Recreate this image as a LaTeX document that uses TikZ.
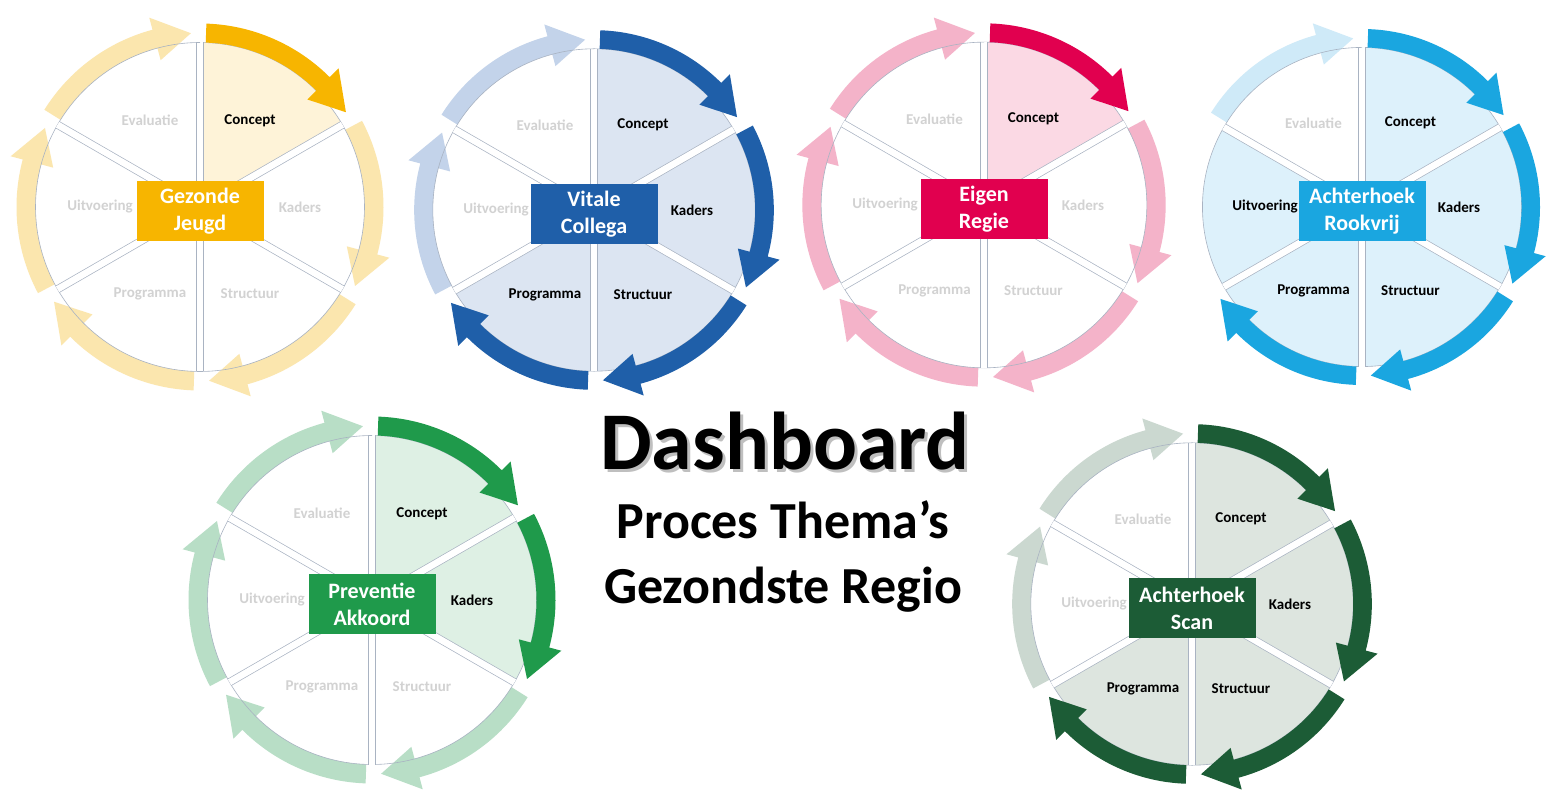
\documentclass[tikz,border=0pt]{standalone}
\usepackage{fontspec}
\setmainfont{Carlito}

\definecolor{geel}{HTML}{F7B500}
\definecolor{geelPijl}{HTML}{FBE6AE}
\definecolor{geelVlak}{HTML}{FEF3D8}
\definecolor{blauw}{HTML}{1F5FA9}
\definecolor{blauwPijl}{HTML}{C3D3EA}
\definecolor{blauwVlak}{HTML}{DCE5F2}
\definecolor{roze}{HTML}{E1004F}
\definecolor{rozePijl}{HTML}{F4B3C9}
\definecolor{rozeVlak}{HTML}{FBD9E4}
\definecolor{cyaan}{HTML}{1AA6E0}
\definecolor{cyaanPijl}{HTML}{CFEAF8}
\definecolor{cyaanVlak}{HTML}{DDF1FB}
\definecolor{groen}{HTML}{1F9A4B}
\definecolor{groenPijl}{HTML}{B8DEC6}
\definecolor{groenVlak}{HTML}{DEF0E4}
\definecolor{dgroen}{HTML}{1C5C36}
\definecolor{dgroenPijl}{HTML}{CBD8D0}
\definecolor{dgroenVlak}{HTML}{DDE5DF}
\definecolor{grijsTekst}{HTML}{D2D2D2}
\definecolor{randKleur}{HTML}{A9B3C2}

% radii (1 unit = 1pt = 1px of the reference)
\def\rSec{164.5}
\def\rIn{164.5}
\def\rOut{183.5}
\def\rMid{174}
\def\rHi{152}
\def\rHo{196}

\tikzset{
  titel/.style={text=white, font=\bfseries\fontsize{22}{27}\selectfont, align=center,
    minimum width=127pt, minimum height=60pt, inner sep=2.5pt},
  fase/.style={font=\bfseries\fontsize{15}{17}\selectfont},
  rand/.style={draw=randKleur, line width=0.6pt},
  kop/.style={anchor=base, font=\bfseries\fontsize{52}{60}\selectfont}
}

% curved arrow from angle #2 to angle #3 (clockwise)
\newcommand{\pijl}[3]{%
  \pgfmathsetmacro\pS{#2-2}%
  \pgfmathsetmacro\pT{#3+3}%
  \pgfmathsetmacro\pH{#3+15}%
  \fill[#1] (\pS:\rOut) arc[start angle=\pS, end angle=\pH, radius=\rOut]
    -- (\pH:\rHo) -- (\pT:\rMid) -- (\pH:\rHi) -- (\pH:\rIn)
    arc[start angle=\pH, end angle=\pS, radius=\rIn] -- cycle;}

% #1 centre, #2 scale, #3 dark, #4 pale, #5 light, #6 theme, #7 phases/state
\newcommand{\procesWiel}[7]{%
\begin{scope}[shift={(#1)}, scale=#2]
  \foreach \lab/\st [count=\i from 0] in {#7} {
    \pgfmathsetmacro\A{90-60*\i}
    \ifnum\st=0 \def\vul{white}\else\def\vul{#5}\fi
    \fill[\vul] (0,0) -- (\A:\rSec) arc[start angle=\A, delta angle=-60, radius=\rSec] -- cycle;
  }
  \foreach \lab/\st [count=\i from 0] in {#7} {
    \pgfmathsetmacro\A{90-60*\i}
    \ifnum\st=0 \pijl{#4}{\A}{\A-60}\fi
  }
  \foreach \lab/\st [count=\i from 0] in {#7} {
    \pgfmathsetmacro\A{90-60*\i}
    \draw[rand] (\A:\rSec) arc[start angle=\A, delta angle=-60, radius=\rSec];
    \draw[randKleur, line width=8] (0,0) -- (\A:\rSec);
    \draw[white, line width=6.6] (0,0) -- (\A:\rSec);
  }
  \foreach \lab/\st [count=\i from 0] in {#7} {
    \pgfmathsetmacro\A{90-60*\i}
    \ifnum\st=1 \pijl{#3}{\A}{\A-60}\fi
    \ifnum\st=0 \def\kleur{grijsTekst}\else\def\kleur{black}\fi
    \node[fase, text=\kleur] (#1-\i) at (\A-30:100) {\lab};
  }
  \node[titel, fill=#3] (#1-titel) at (0,-4) {#6};
\end{scope}}

\begin{document}
\begin{tikzpicture}[x=1pt, y=1pt]
\fill[white] (0,0) rectangle (1546,798);
\useasboundingbox (0,0) rectangle (1546,798);

\coordinate (jeugd) at (200,591);
\coordinate (vitaal) at (594,588);
\coordinate (regie) at (984,593);
\coordinate (rookvrij) at (1362,591);
\coordinate (akkoord) at (372,198);
\coordinate (scan) at (1192,194);

\procesWiel{jeugd}{1}{geel}{geelPijl}{geelVlak}{Gezonde\\Jeugd}
  {Concept/1,Kaders/0,Structuur/0,Programma/0,Uitvoering/0,Evaluatie/0}
\procesWiel{vitaal}{0.98}{blauw}{blauwPijl}{blauwVlak}{Vitale\\Collega}
  {Concept/1,Kaders/1,Structuur/1,Programma/1,Uitvoering/0,Evaluatie/0}
\procesWiel{regie}{0.99}{roze}{rozePijl}{rozeVlak}{Eigen\\Regie}
  {Concept/1,Kaders/0,Structuur/0,Programma/0,Uitvoering/0,Evaluatie/0}
\procesWiel{rookvrij}{0.97}{cyaan}{cyaanPijl}{cyaanVlak}{Achterhoek\\Rookvrij}
  {Concept/1,Kaders/1,Structuur/1,Programma/1,Uitvoering/2,Evaluatie/0}
\procesWiel{akkoord}{1}{groen}{groenPijl}{groenVlak}{Preventie\\Akkoord}
  {Concept/1,Kaders/1,Structuur/0,Programma/0,Uitvoering/0,Evaluatie/0}
\procesWiel{scan}{0.98}{dgroen}{dgroenPijl}{dgroenVlak}{Achterhoek\\Scan}
  {Concept/1,Kaders/1,Structuur/1,Programma/1,Uitvoering/0,Evaluatie/0}

% title
\node[kop, font=\bfseries\fontsize{82}{90}\selectfont, text=black!25] (schaduw) at (788,325) {Dashboard};
\node[kop, font=\bfseries\fontsize{82}{90}\selectfont] (dashboard) at (785,328) {Dashboard};
\node[kop] (proces) at (783,259) {Proces Thema’s};
\node[kop] (regio) at (783,195) {Gezondste Regio};
\end{tikzpicture}
\end{document}
